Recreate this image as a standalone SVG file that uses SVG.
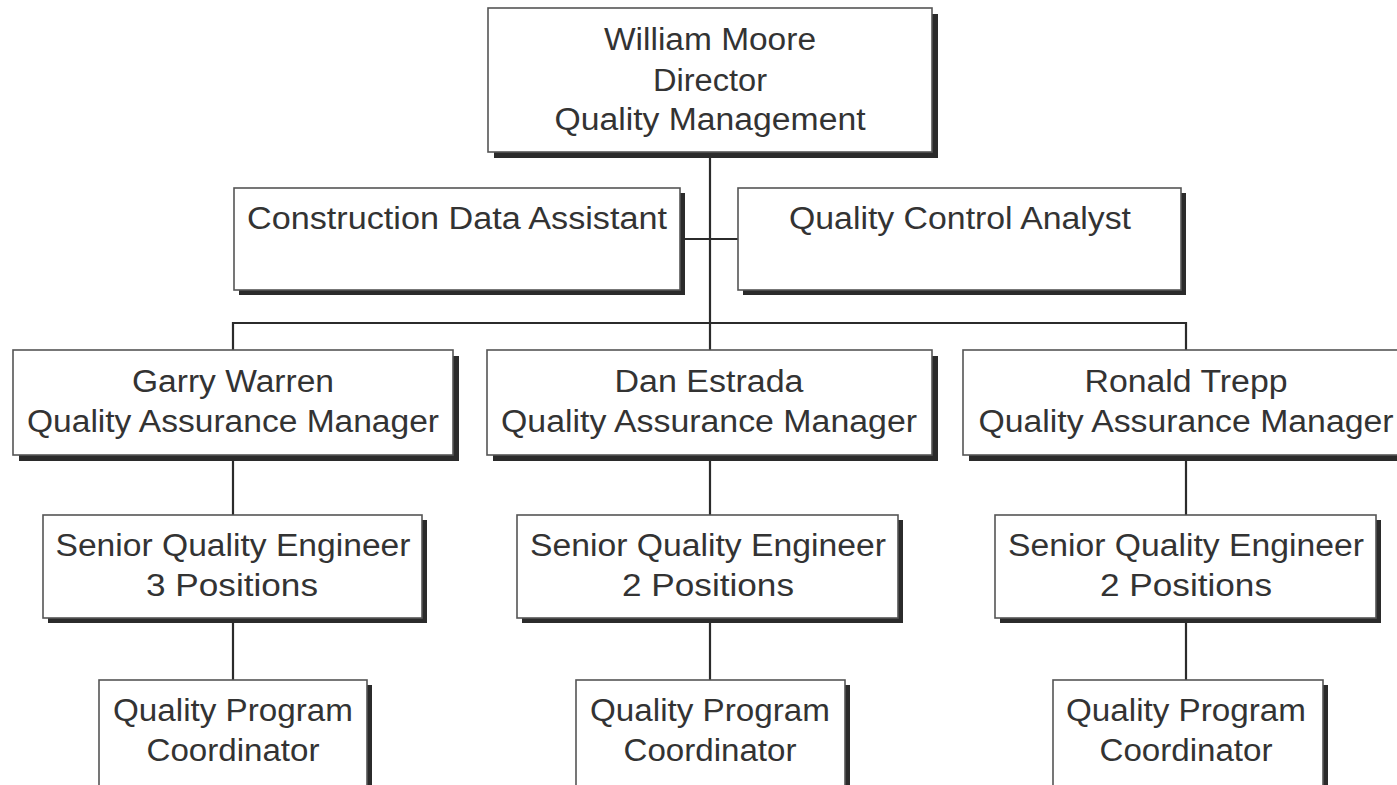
<svg xmlns="http://www.w3.org/2000/svg" width="1397" height="785" viewBox="0 0 1397 785">
<style>
.sh{fill:#2b2b2b}
.bx{fill:#fff;stroke:#555;stroke-width:1.6}
.t{font-family:"Liberation Sans",Arial,sans-serif;font-size:31px;fill:#333;text-anchor:middle}
.ln{stroke:#2b2b2b;stroke-width:2.2;fill:none}
</style>
<rect width="1397" height="785" fill="#fff"/>
<g id="connectors">
<path class="ln" d="M710 152 V323 M680 239 H738 M233 350 V323 H1186 V350 M710 323 V350"/>
<path class="ln" d="M233 455 V515 M233 618 V680 M710 455 V515 M710 618 V680 M1186 455 V515 M1186 618 V680"/>
</g>
<g id="director">
<rect class="sh" x="494" y="14" width="444" height="144"/>
<rect class="bx" x="488" y="8" width="444" height="144"/>
<text class="t" x="710" y="50" textLength="212" lengthAdjust="spacingAndGlyphs">William Moore</text>
<text class="t" x="710" y="91" textLength="114" lengthAdjust="spacingAndGlyphs">Director</text>
<text class="t" x="710" y="130" textLength="311" lengthAdjust="spacingAndGlyphs">Quality Management</text>
</g>
<g id="cda">
<rect class="sh" x="239" y="193" width="446" height="102"/>
<rect class="bx" x="234" y="188" width="446" height="102"/>
<text class="t" x="457" y="229" textLength="420" lengthAdjust="spacingAndGlyphs">Construction Data Assistant</text>
</g>
<g id="qca">
<rect class="sh" x="743" y="193" width="443" height="102"/>
<rect class="bx" x="738" y="188" width="443" height="102"/>
<text class="t" x="960" y="229" textLength="342" lengthAdjust="spacingAndGlyphs">Quality Control Analyst</text>
</g>
<g id="warren">
<rect class="sh" x="19" y="356" width="440" height="105"/>
<rect class="bx" x="13" y="350" width="440" height="105"/>
<text class="t" x="233" y="392" textLength="202" lengthAdjust="spacingAndGlyphs">Garry Warren</text>
<text class="t" x="233" y="432" textLength="412" lengthAdjust="spacingAndGlyphs">Quality Assurance Manager</text>
</g>
<g id="estrada">
<rect class="sh" x="493" y="356" width="445" height="105"/>
<rect class="bx" x="487" y="350" width="445" height="105"/>
<text class="t" x="709" y="392" textLength="189" lengthAdjust="spacingAndGlyphs">Dan Estrada</text>
<text class="t" x="709" y="432" textLength="416" lengthAdjust="spacingAndGlyphs">Quality Assurance Manager</text>
</g>
<g id="trepp">
<rect class="sh" x="969" y="356" width="446" height="105"/>
<rect class="bx" x="963" y="350" width="446" height="105"/>
<text class="t" x="1186" y="392" textLength="203" lengthAdjust="spacingAndGlyphs">Ronald Trepp</text>
<text class="t" x="1186" y="432" textLength="415" lengthAdjust="spacingAndGlyphs">Quality Assurance Manager</text>
</g>
<g id="sqe1">
<rect class="sh" x="48" y="520" width="379" height="103"/>
<rect class="bx" x="43" y="515" width="379" height="103"/>
<text class="t" x="233" y="556" textLength="355" lengthAdjust="spacingAndGlyphs">Senior Quality Engineer</text>
<text class="t" x="232" y="596" textLength="172" lengthAdjust="spacingAndGlyphs">3 Positions</text>
</g>
<g id="sqe2">
<rect class="sh" x="522" y="520" width="381" height="103"/>
<rect class="bx" x="517" y="515" width="381" height="103"/>
<text class="t" x="708" y="556" textLength="356" lengthAdjust="spacingAndGlyphs">Senior Quality Engineer</text>
<text class="t" x="708" y="596" textLength="172" lengthAdjust="spacingAndGlyphs">2 Positions</text>
</g>
<g id="sqe3">
<rect class="sh" x="1000" y="520" width="381" height="103"/>
<rect class="bx" x="995" y="515" width="381" height="103"/>
<text class="t" x="1186" y="556" textLength="356" lengthAdjust="spacingAndGlyphs">Senior Quality Engineer</text>
<text class="t" x="1186" y="596" textLength="172" lengthAdjust="spacingAndGlyphs">2 Positions</text>
</g>
<g id="qpc1">
<rect class="sh" x="104" y="685" width="268" height="110"/>
<rect class="bx" x="99" y="680" width="268" height="110"/>
<text class="t" x="233" y="721" textLength="240" lengthAdjust="spacingAndGlyphs">Quality Program</text>
<text class="t" x="233" y="761" textLength="173" lengthAdjust="spacingAndGlyphs">Coordinator</text>
</g>
<g id="qpc2">
<rect class="sh" x="581" y="685" width="269" height="110"/>
<rect class="bx" x="576" y="680" width="269" height="110"/>
<text class="t" x="710" y="721" textLength="240" lengthAdjust="spacingAndGlyphs">Quality Program</text>
<text class="t" x="710" y="761" textLength="173" lengthAdjust="spacingAndGlyphs">Coordinator</text>
</g>
<g id="qpc3">
<rect class="sh" x="1058" y="685" width="270" height="110"/>
<rect class="bx" x="1053" y="680" width="270" height="110"/>
<text class="t" x="1186" y="721" textLength="240" lengthAdjust="spacingAndGlyphs">Quality Program</text>
<text class="t" x="1186" y="761" textLength="173" lengthAdjust="spacingAndGlyphs">Coordinator</text>
</g>
</svg>
